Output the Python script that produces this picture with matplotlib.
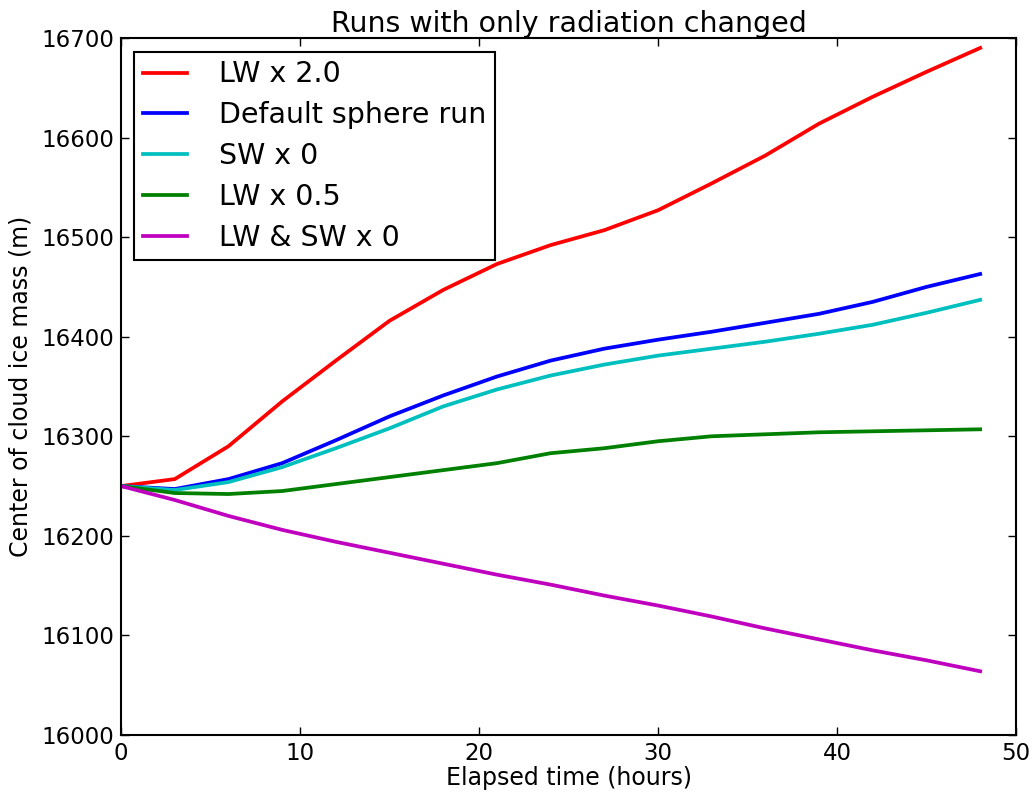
import numpy as np
import matplotlib
matplotlib.use('Agg')
import matplotlib.pyplot as plt

# elapsed time (hours), output every 3 h
hours = [0, 3, 6, 9, 12, 15, 18, 21, 24, 27, 30, 33, 36, 39, 42, 45, 48]

# center of cloud ice mass (m) for each run
lw_x2 = [16250, 16257, 16290, 16335, 16376, 16416, 16447, 16473, 16492,
         16507, 16527, 16554, 16582, 16614, 16641, 16666, 16690]
default_run = [16250, 16247, 16257, 16273, 16296, 16320, 16341, 16360, 16376,
               16388, 16397, 16405, 16414, 16423, 16435, 16450, 16463]
sw_x0 = [16250, 16246, 16254, 16269, 16288, 16308, 16330, 16347, 16361,
         16372, 16381, 16388, 16395, 16403, 16412, 16424, 16437]
lw_x05 = [16250, 16243, 16242, 16245, 16252, 16259, 16266, 16273, 16283,
          16288, 16295, 16300, 16302, 16304, 16305, 16306, 16307]
lw_sw_x0 = [16250, 16236, 16220, 16206, 16194, 16183, 16172, 16161, 16151,
            16140, 16130, 16119, 16107, 16096, 16085, 16075, 16064]

fig = plt.figure(figsize=(10.35, 7.95), dpi=100)
ax = fig.add_axes([0.117, 0.0755, 0.8646, 0.8767])

ax.plot(hours, lw_x2, color='r', lw=2.7, label='LW x 2.0')
ax.plot(hours, default_run, color='b', lw=2.7, label='Default sphere run')
ax.plot(hours, sw_x0, color=(0, 0.75, 0.75), lw=2.7, label='SW x 0')
ax.plot(hours, lw_x05, color=(0, 0.5, 0), lw=2.7, label='LW x 0.5')
ax.plot(hours, lw_sw_x0, color=(0.75, 0, 0.75), lw=2.7, label='LW & SW x 0')

ax.set_xlim(0, 50)
ax.set_ylim(16000, 16700)
ax.set_xticks(np.arange(0, 51, 10))
ax.set_yticks(np.arange(16000, 16701, 100))
ax.tick_params(direction='in', top=True, right=True, length=6, width=1,
               labelsize=16.5, pad=5)
for s in ax.spines.values():
    s.set_linewidth(1.5)

ax.set_xlabel('Elapsed time (hours)', fontsize=17, labelpad=1)
ax.set_ylabel('Center of cloud ice mass (m)', fontsize=17, labelpad=6)
ax.set_title('Runs with only radiation changed', fontsize=20.5, pad=4)

leg = ax.legend(loc='upper left', fontsize=20.5, fancybox=False, framealpha=1,
                edgecolor='black', handlelength=1.55, handletextpad=1.15,
                borderpad=0.3, labelspacing=0.45, borderaxespad=0,
                bbox_to_anchor=(0.0145, 0.980))
leg.get_frame().set_linewidth(1.5)

fig.savefig('out.png', dpi=100)
